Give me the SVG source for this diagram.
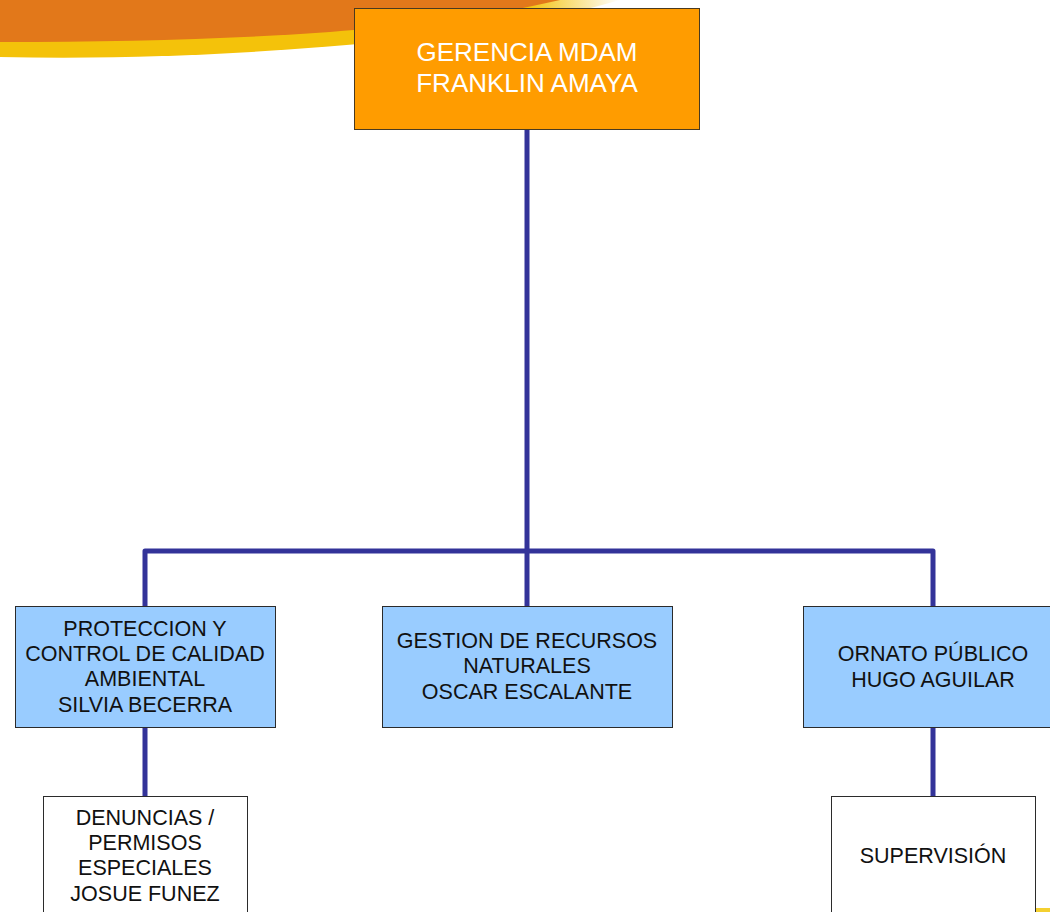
<svg xmlns="http://www.w3.org/2000/svg" width="1050" height="912" viewBox="0 0 1050 912">
<defs>
<linearGradient id="fade" x1="0" y1="0" x2="1" y2="0">
<stop offset="0" stop-color="#f4c20a"/>
<stop offset="0.85" stop-color="#f4c20a"/>
<stop offset="1" stop-color="#f4c20a" stop-opacity="0"/>
</linearGradient>
</defs>
<style>
.box{stroke:#2b2b2b;stroke-width:1}
.top{fill:#ff9c00;stroke:#4a3a20;stroke-width:1}
.blue{fill:#99ccff}
.white{fill:#ffffff}
.t{font-family:"Liberation Sans",Arial,sans-serif;font-size:21.5px;fill:#111;text-anchor:middle}
.tt{font-family:"Liberation Sans",Arial,sans-serif;font-size:26px;fill:#ffffff;text-anchor:middle}
.c{stroke:#333399;stroke-width:5;fill:none;stroke-linejoin:round;stroke-linecap:round}
</style>
<g id="background">
<path d="M0,0 L620,0 C560,18 480,32 400,40 C280,52 150,60 0,57 Z" fill="url(#fade)"/>
<path d="M0,0 L560,0 C500,14 430,24 330,32 C230,39 120,42 0,42 Z" fill="#e2781a"/>
<rect x="1035" y="908" width="15" height="4" fill="#f4d030"/>
</g>
<g id="connectors">
<path class="c" d="M527,130 V606"/>
<path class="c" d="M145,606 V551 H933 V606"/>
<path class="c" d="M145,727 V796"/>
<path class="c" d="M933,727 V796"/>
</g>
<g id="gerencia">
<rect class="top" x="354.5" y="8.5" width="345" height="121"/>
<text class="tt" x="527" y="61">GERENCIA MDAM</text>
<text class="tt" x="527" y="92">FRANKLIN AMAYA</text>
</g>
<g id="proteccion">
<rect class="box blue" x="15.5" y="606.5" width="260" height="121"/>
<text class="t" x="145" y="636">PROTECCION Y</text>
<text class="t" x="145" y="661">CONTROL DE CALIDAD</text>
<text class="t" x="145" y="686">AMBIENTAL</text>
<text class="t" x="145" y="712">SILVIA BECERRA</text>
</g>
<g id="gestion">
<rect class="box blue" x="382.5" y="606.5" width="290" height="121"/>
<text class="t" x="527" y="648">GESTION DE RECURSOS</text>
<text class="t" x="527" y="673">NATURALES</text>
<text class="t" x="527" y="699">OSCAR ESCALANTE</text>
</g>
<g id="ornato">
<rect class="box blue" x="803.5" y="606.5" width="260" height="121"/>
<text class="t" x="933" y="661">ORNATO PÚBLICO</text>
<text class="t" x="933" y="687">HUGO AGUILAR</text>
</g>
<g id="denuncias">
<rect class="box white" x="43.5" y="796.5" width="204" height="130"/>
<text class="t" x="145" y="825">DENUNCIAS /</text>
<text class="t" x="145" y="850">PERMISOS</text>
<text class="t" x="145" y="875">ESPECIALES</text>
<text class="t" x="145" y="901">JOSUE FUNEZ</text>
</g>
<g id="supervision">
<rect class="box white" x="831.5" y="796.5" width="204" height="130"/>
<text class="t" x="933" y="863">SUPERVISIÓN</text>
</g>
</svg>
